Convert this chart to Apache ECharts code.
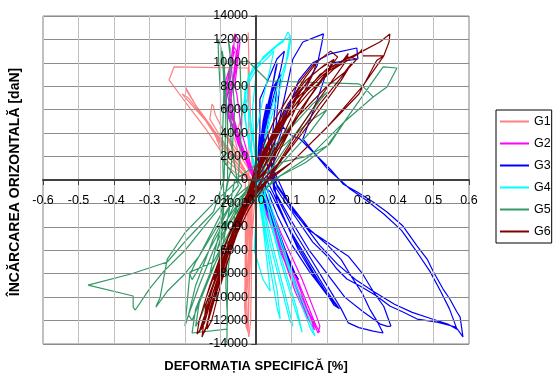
<!DOCTYPE html>
<html>
<head>
<meta charset="utf-8">
<script src="https://cdn.jsdelivr.net/npm/echarts@6/dist/echarts.min.js"></script>
<style>
html,body{margin:0;padding:0;background:#fff;}
#chart{width:554px;height:378px;}
</style>
</head>
<body>
<div id="chart"></div>
<script>
// Strain gauge readings: [strain %, horizontal load daN]
const seriesNames = ['G1', 'G2', 'G3', 'G4', 'G5', 'G6'];
const seriesColors = ['#FF8080', '#FF00FF', '#0000FF', '#00FFFF', '#339966', '#800000'];

const g1 = [
  [0,0],[-0.01,1000],[-0.03,2200],[-0.02,1200],[-0.005,0],[-0.01,-1500],[-0.015,-3000],[-0.01,-1500],[-0.005,0],
  [-0.03,1400],[-0.07,3300],[-0.1,4600],[-0.09,4200],[-0.05,1900],[-0.015,0],[-0.02,-3000],[-0.025,-6000],[-0.02,-4000],[-0.01,0],
  [-0.04,1200],[-0.09,3200],[-0.13,5200],[-0.124,6490],[-0.12,6300],[-0.115,5600],[-0.07,2900],[-0.03,600],[-0.02,0],
  [-0.025,-4000],[-0.03,-8000],[-0.028,-9500],[-0.022,-7000],[-0.015,-2500],[-0.01,0],
  [-0.05,1300],[-0.11,3900],[-0.17,6400],[-0.2,8000],[-0.195,7600],[-0.13,4500],[-0.07,1700],[-0.02,0],
  [-0.028,-5000],[-0.032,-10000],[-0.03,-11500],[-0.024,-9000],[-0.016,-4000],[-0.01,0],
  [-0.06,1600],[-0.14,5000],[-0.208,7340],[-0.19,7000],[-0.12,4200],[-0.079,1100],[-0.03,0],
  [-0.03,-6000],[-0.031,-12000],[-0.025,-12800],[-0.02,-9000],[-0.012,-3000],[-0.02,0],
  [-0.02,4000],[-0.022,9560],[-0.1,9600],[-0.231,9650],[-0.245,8540],[-0.2,6700],[-0.14,4300],[-0.08,1600],[-0.02,0],
  [-0.03,-6000],[-0.032,-11000],[-0.02,-13400],[-0.015,-12000],[-0.012,-6000],[-0.01,0],
  [-0.015,5000],[-0.02,10000],[-0.022,12600],[-0.02,10000],[-0.025,6900],[-0.06,3500],[-0.04,1200],[-0.015,0],
  [-0.025,-5000],[-0.028,-12500],[-0.022,-13000],[-0.018,-8000],[0,0]
];

const g2 = [
  [0,0],[-0.02,1500],[-0.04,3000],[-0.03,2000],[0,0],[0.02,-1500],[0.04,-3000],[0.03,-2200],[0.005,0],
  [-0.03,2000],[-0.06,4500],[-0.07,6000],[-0.065,5200],[-0.03,2000],[0,0],[0.03,-2500],[0.06,-5000],[0.08,-6500],[0.07,-5800],[0.03,-2400],[0,0],
  [-0.04,2500],[-0.08,5500],[-0.09,7500],[-0.085,8500],[-0.08,8000],[-0.06,5000],[-0.03,2000],[0,0],
  [0.04,-3000],[0.08,-6500],[0.11,-9000],[0.1,-8500],[0.06,-5000],[0.02,-1000],[0,0],
  [-0.045,3000],[-0.085,6000],[-0.08,8500],[-0.07,10000],[-0.06,11000],[-0.065,10500],[-0.075,8000],[-0.07,5000],[-0.03,2000],[0,0],
  [0.04,-3500],[0.09,-7500],[0.13,-10500],[0.15,-12000],[0.14,-11500],[0.1,-8000],[0.05,-3800],[0,0],
  [-0.05,3500],[-0.09,6500],[-0.085,8500],[-0.065,10500],[-0.06,12470],[-0.05,12000],[-0.055,10000],[-0.07,7000],[-0.06,4000],[-0.02,1000],
  [0.01,-1000],[0.06,-5500],[0.11,-9000],[0.15,-11500],[0.175,-13060],[0.18,-12470],[0.17,-11600],[0.13,-8500],[0.07,-4500],[0.02,-700],
  [-0.03,2000],[-0.07,5500],[-0.08,7340],[-0.055,9500],[-0.045,11800],[-0.05,10500],[-0.06,8000],[-0.054,7340],[-0.04,4000],[-0.01,800],
  [0.03,-2500],[0.08,-6000],[0.12,-9500],[0.16,-12000],[0.18,-13000],[0.17,-12500],[0.13,-9500],[0.09,-6500],[0.04,-2800],[0,0],
  [-0.035,2500],[-0.07,5000],[-0.09,7000],[-0.075,9000],[-0.065,11500],[-0.055,11000],[-0.065,8500],[-0.08,6000],[-0.05,3000],[-0.01,500],
  [0.03,-3000],[0.07,-6000],[0.11,-9500],[0.14,-11500],[0.165,-12800],[0.16,-12300],[0.12,-9000],[0.08,-5800],[0.04,-2500],[0,0]
];

const g3 = [
  [0,0],[0.005,2000],[0.01,4000],[0.008,3000],[0,0],[0.02,-1500],[0.04,-3000],[0.03,-2000],[0.005,0],
  [0.01,2500],[0.02,5000],[0.03,6500],[0.025,5500],[0.01,2500],[0,0],
  [0.03,-2500],[0.06,-4500],[0.08,-6000],[0.07,-5200],[0.03,-2000],[0.01,0],
  [0.015,3000],[0.03,6000],[0.05,8500],[0.06,10000],[0.055,9500],[0.035,6000],[0.015,2500],[0.01,0],
  [0.04,-3000],[0.08,-5800],[0.11,-8000],[0.12,-8500],[0.1,-7500],[0.06,-4000],[0.02,-500],
  [0.011,3000],[0.011,6900],[0.059,10330],[0.08,11000],[0.07,9500],[0.04,6000],[0.02,2500],[0.02,0],
  [0.06,-3000],[0.1,-5500],[0.15,-7800],[0.2,-9800],[0.232,-10930],[0.22,-10700],[0.16,-7800],[0.1,-4700],[0.05,-1200],[0.03,0],
  [0.05,3000],[0.08,7000],[0.104,10330],[0.132,11780],[0.19,12470],[0.186,11780],[0.172,9740],[0.138,8030],[0.101,6920],[0.076,5470],[0.073,4610],[0.1,3800],[0.124,3500],
  [0.21,900],[0.245,-340],[0.285,-1025],[0.33,-1880],[0.369,-2730],[0.414,-3930],[0.454,-5640],[0.482,-6750],[0.5,-7860],[0.527,-9310],[0.546,-10160],[0.566,-11270],[0.575,-11700],[0.583,-13400],
  [0.563,-12550],[0.51,-12130],[0.454,-11870],[0.414,-11270],[0.377,-10760],[0.34,-9900],[0.293,-9050],[0.256,-8450],[0.228,-7600],[0.2,-6490],[0.16,-5300],[0.115,-3330],[0.076,-1620],[0.04,85],
  [0.06,3000],[0.09,6000],[0.12,8500],[0.16,10000],[0.208,10760],[0.284,11270],[0.287,10330],[0.214,10000],[0.195,8880],[0.18,7520],[0.16,5800],[0.132,3500],[0.2,1000],[0.265,-770],
  [0.31,-1700],[0.36,-2900],[0.41,-4300],[0.45,-6000],[0.49,-7800],[0.52,-9500],[0.545,-11000],[0.566,-12730],[0.54,-12300],[0.49,-11800],[0.44,-11300],[0.39,-10600],[0.33,-9500],[0.28,-8500],[0.23,-7200],[0.18,-5600],[0.12,-3200],[0.06,-600],
  [0.04,2000],[0.03,5000],[0.05,8000],[0.07,9000],[0.06,6000],[0.05,2000],[0.05,0],
  [0.1,-2200],[0.15,-4200],[0.2,-5500],[0.24,-6800],[0.27,-8300],[0.3,-9700],[0.32,-11000],[0.34,-12000],[0.358,-13060],[0.33,-12900],[0.29,-12600],[0.26,-12200],[0.24,-11000],[0.2,-9000],[0.16,-7000],[0.11,-4500],[0.06,-1500],
  [0.03,1500],[0.02,4000],[0.04,7000],[0.06,8500],[0.05,5000],[0.04,1500],
  [0.1,-2500],[0.15,-4300],[0.2,-5300],[0.26,-6500],[0.3,-8000],[0.33,-9500],[0.36,-10800],[0.38,-12470],[0.37,-12500],[0.35,-12300],[0.3,-11200],[0.25,-10000],[0.2,-8000],[0.15,-6000],[0.1,-3500],[0.05,-800],
  [0.04,2000],[0.06,-2000],[0.12,-6000],[0.18,-9000],[0.22,-10500],[0.235,-11000],[0.2,-9500],[0.14,-6500],[0.09,-4000],[0.04,-1000],[0,0]
];

const g4 = [
  [0,0],[-0.01,2000],[-0.02,4000],[-0.015,3000],[0,0],[0.01,-2000],[0.02,-4000],[0.015,-3000],[0,0],
  [-0.015,2500],[-0.03,5000],[-0.03,6500],[-0.02,6000],[-0.005,3000],[0.005,0],
  [0.0,-3000],[-0.005,-6000],[0.02,-8500],[0.04,-9500],[0.035,-8000],[0.02,-4000],[0.005,0],
  [-0.02,3000],[-0.035,6000],[-0.03,8000],[-0.01,9500],[0.003,10070],[0.0,9000],[-0.01,6000],[-0.005,2500],[0.01,0],
  [0.02,-3000],[0.04,-6500],[0.06,-9500],[0.068,-11870],[0.06,-11000],[0.04,-7500],[0.02,-3500],[0.01,0],
  [-0.02,3000],[-0.035,6500],[-0.02,9000],[0.03,10330],[0.05,11000],[0.04,9500],[0.02,7000],[0.0,4000],[0.005,1000],
  [0.02,-2000],[0.05,-6000],[0.08,-9500],[0.104,-12470],[0.095,-12000],[0.07,-9000],[0.04,-5500],[0.015,-1500],
  [-0.01,2000],[-0.03,5000],[-0.03,8000],[0.0,9800],[0.059,11440],[0.076,11780],[0.09,12640],[0.096,12300],[0.082,9480],[0.06,7000],[0.03,4000],[0.015,1000],
  [0.03,-2000],[0.06,-5500],[0.09,-8500],[0.115,-11000],[0.13,-13000],[0.125,-12500],[0.1,-10000],[0.07,-7000],[0.04,-3500],[0.02,-500],
  [0,2000],[-0.02,5000],[-0.025,8000],[0.02,10500],[0.07,11800],[0.1,12300],[0.09,10500],[0.06,8000],[0.03,4500],[0.02,1500],
  [0.04,-2000],[0.07,-5000],[0.1,-8000],[0.14,-11000],[0.166,-13300],[0.155,-12800],[0.12,-10000],[0.08,-6500],[0.04,-2500],[0,0]
];

const g5 = [
  [0,0],[0.02,1500],[0.05,3000],[0.04,2000],[0,0],[-0.03,-1500],[-0.06,-3000],[-0.05,-2000],[-0.01,0],
  [0.03,2000],[0.08,4000],[0.12,5500],[0.1,4800],[0.04,1800],[0,0],[-0.04,-2000],[-0.08,-4000],[-0.11,-6000],[-0.1,-5000],[-0.04,-1500],[0,0],
  [0.04,2000],[0.1,4500],[0.16,6500],[0.2,7500],[0.18,6800],[0.1,3500],[0.04,800],[0,0],
  [-0.05,-2000],[-0.1,-4200],[-0.15,-7000],[-0.18,-8500],[-0.186,-8110],[-0.17,-7000],[-0.1,-3500],[-0.04,-500],
  [-0.1,2000],[-0.1,7340],[-0.105,10000],[-0.107,12040],[-0.1,11500],[-0.09,9000],[-0.085,5000],[-0.09,0],
  [-0.12,-2730],[-0.194,-5040],[-0.25,-7000],[-0.35,-8000],[-0.473,-8970],[-0.346,-9900],[-0.346,-10850],[-0.34,-11100],[-0.3,-9300],[-0.26,-7800],[-0.2,-6000],[-0.12,-3000],[-0.05,-500],
  [-0.07,3000],[-0.075,8000],[-0.073,11190],[-0.079,12040],[-0.07,10000],[-0.06,6000],[-0.07,1000],
  [-0.1,-3000],[-0.16,-6500],[-0.2,-8000],[-0.25,-9500],[-0.282,-10850],[-0.27,-10000],[-0.25,-6750],[-0.2,-4500],[-0.12,-2000],[-0.05,0],
  [-0.04,5000],[-0.045,10070],[-0.023,10160],[0.034,8450],[0.29,8200],[0.3,8030],[0.33,7090],[0.25,5000],[0.15,2000],[0.05,0],
  [-0.05,-3000],[-0.12,-7000],[-0.186,-7860],[-0.2,-12470],[-0.19,-11500],[-0.17,-9000],[-0.12,-5000],[-0.06,-1500],[0,0],
  [0.07,1500],[0.14,2000],[0.2,2900],[0.28,6300],[0.358,9650],[0.397,9560],[0.369,7940],[0.33,7090],[0.25,5000],[0.208,3070],[0.14,1500],[0.068,340],
  [-0.02,-2000],[-0.08,-5000],[-0.085,-9000],[-0.08,-12000],[-0.082,-12730],[-0.18,-13060],[-0.17,-11000],[-0.13,-8000],[-0.08,-5000],[-0.04,-2000],[0,0],
  [-0.06,-2000],[-0.12,-6000],[-0.16,-9000],[-0.19,-11500],[-0.18,-12000],[-0.14,-9000],[-0.1,-6000],[-0.09,-2000],
  [-0.095,3000],[-0.09,8000],[-0.095,11000],[-0.09,10000],[-0.08,5000],[-0.08,0],
  [-0.1,-4000],[-0.13,-8000],[-0.16,-10500],[-0.17,-12500],[-0.16,-12000],[-0.12,-9000],[-0.09,-5000],[-0.06,0],
  [0.08,3000],[0.15,5000],[0.2,6000],[0.15,4000],[0.06,1000],[-0.06,-3000],[-0.08,-8000],[-0.082,-14000]
];

const g6 = [
  [0,0],[0.01,1500],[0.03,3000],[0.02,2000],[0,0],[-0.02,-1500],[-0.04,-3000],[-0.03,-2000],[0,0],
  [0.02,2000],[0.05,4000],[0.08,5500],[0.06,4500],[0.02,1500],[0,0],[-0.03,-2000],[-0.06,-4000],[-0.08,-5500],[-0.07,-5000],[-0.03,-2000],[0,0],
  [0.03,2500],[0.07,5000],[0.12,7500],[0.15,8500],[0.13,7800],[0.07,4500],[0.02,1000],[0,0],
  [-0.04,-2500],[-0.08,-5000],[-0.1,-7000],[-0.12,-8500],[-0.11,-8000],[-0.07,-5000],[-0.03,-1500],[0,0],
  [0.04,3000],[0.1,6500],[0.16,9000],[0.2,10000],[0.21,9500],[0.15,7000],[0.08,3500],[0.02,500],
  [-0.02,-1000],[-0.06,-3500],[-0.1,-6500],[-0.13,-9000],[-0.15,-11000],[-0.14,-10500],[-0.1,-7500],[-0.06,-4000],[-0.02,-800],
  [0.03,2000],[0.1,6000],[0.18,9000],[0.26,10500],[0.284,10330],[0.26,9500],[0.18,6500],[0.1,3000],[0.04,250],
  [-0.02,-1500],[-0.07,-4200],[-0.11,-7500],[-0.14,-10000],[-0.16,-12000],[-0.166,-13150],[-0.15,-12500],[-0.12,-9500],[-0.08,-6000],[-0.03,-2000],
  [0.02,2000],[0.08,5000],[0.15,7500],[0.22,9500],[0.29,10800],[0.3,11190],[0.3,10600],[0.33,10600],[0.36,10600],[0.34,10200],[0.29,7340],[0.2,4500],[0.1,1500],[0.04,250],
  [-0.02,-2000],[-0.065,-4500],[-0.11,-8000],[-0.14,-10500],[-0.152,-13400],[-0.14,-12500],[-0.11,-9000],[-0.08,-6000],[-0.04,-2500],
  [0.02,2500],[0.1,6500],[0.2,9500],[0.3,11000],[0.35,11800],[0.377,12470],[0.375,11800],[0.36,10600],[0.3,8000],[0.2,4500],[0.1,1500],[0.03,-200],
  [-0.02,-2500],[-0.06,-5000],[-0.1,-8000],[-0.13,-11000],[-0.138,-12730],[-0.125,-12000],[-0.1,-9000],[-0.07,-6000],[-0.03,-2500],[0,0],
  [0.01,1000],[0.04,3500],[0.09,6500],[0.14,8500],[0.18,9500],[0.22,10300],[0.2,9200],[0.12,5800],[0.06,2500],[0.01,-300],
  [-0.03,-2000],[-0.075,-5200],[-0.115,-8500],[-0.14,-11000],[-0.155,-12800],[-0.145,-12200],[-0.115,-9000],[-0.085,-6500],[-0.045,-3000],[-0.01,-500],
  [0.05,2500],[0.12,5500],[0.2,8000],[0.25,9200],[0.27,10000],[0.24,8500],[0.16,5200],[0.08,2000],[0.02,0],
  [-0.035,-2500],[-0.08,-6000],[-0.12,-9500],[-0.145,-12000],[-0.16,-13000],[-0.15,-12000],[-0.125,-10000],[-0.095,-7500],[-0.055,-4000],[-0.02,-1200],
  [0.0,1500],[0.05,5000],[0.1,7500],[0.16,9800],[0.21,11000],[0.23,10500],[0.17,8000],[0.1,4500],[0.05,1500],[0.0,0],
  [0.02,1800],[0.07,4800],[0.13,7200],[0.19,9000],[0.24,10000],[0.26,10800],[0.25,10000],[0.18,7000],[0.11,3800],[0.05,800],
  [-0.01,-1500],[-0.05,-4000],[-0.09,-7000],[-0.12,-10000],[-0.14,-12500],[-0.15,-13200],[-0.14,-12600],[-0.11,-9500],[-0.075,-6500],[-0.035,-3000],[0,-300],
  [0.03,3000],[0.08,6000],[0.14,8800],[0.17,10000],[0.16,9000],[0.11,6000],[0.06,2800],[0.015,0],
  [-0.025,-2200],[-0.07,-5500],[-0.105,-8500],[-0.13,-11500],[-0.145,-13000],[-0.135,-12000],[-0.105,-8800],[-0.07,-5600],[-0.03,-2200],[0,0]
];

const seriesData = [g1, g2, g3, g4, g5, g6];

const chart = echarts.init(document.getElementById('chart'), null, {renderer: 'canvas'});

const font = 'Arial, "Liberation Sans", sans-serif';
// plot box: x 43..469, y 16..344; the axes cross at the origin (256, 180)
const plotLeft = 43, plotRight = 469, plotTop = 16, plotBottom = 344;
const zeroX = plotLeft + (plotRight - plotLeft) / 2;
const zeroY = plotTop + (plotBottom - plotTop) / 2;

chart.setOption({
  animation: false,
  backgroundColor: '#fff',
  grid: {left: plotLeft, right: 554 - plotRight, top: plotTop, bottom: 378 - plotBottom, show: true, borderColor: '#808080', borderWidth: 1, backgroundColor: 'transparent'},
  xAxis: {
    type: 'value', min: -0.6, max: 0.6, interval: 0.1, z: 10,
    offset: -(plotBottom - zeroY),
    axisLine: {onZero: false, lineStyle: {color: '#404040', width: 2}},
    axisTick: {show: true, length: 5, lineStyle: {color: '#404040', width: 1}},
    axisLabel: {formatter: v => v.toFixed(1), fontSize: 12.5, color: '#000', margin: 14, fontFamily: font},
    splitLine: {show: true, lineStyle: {color: '#c0c0c0', width: 1}}
  },
  yAxis: {
    type: 'value', min: -14000, max: 14000, interval: 2000, z: 10,
    offset: -(zeroX - plotLeft),
    axisLine: {onZero: false, lineStyle: {color: '#404040', width: 2}},
    axisTick: {show: true, length: 5, lineStyle: {color: '#404040', width: 1}},
    axisLabel: {formatter: v => String(v), fontSize: 12.5, color: '#000', margin: 8, fontFamily: font},
    splitLine: {show: true, lineStyle: {color: '#8c8c8c', width: 1}}
  },
  legend: {
    orient: 'vertical', left: 496, top: 110,
    data: seriesNames, icon: 'rect', itemWidth: 29, itemHeight: 2, itemGap: 9,
    borderColor: '#000', borderWidth: 1, padding: [5, 1, 5, 4],
    textStyle: {fontSize: 12.5, color: '#000', fontFamily: font}
  },
  graphic: [
    {type: 'text', x: zeroX, y: 366, style: {text: 'DEFORMAȚIA SPECIFICĂ [%]', font: 'bold 13px ' + font, fill: '#000', align: 'center', verticalAlign: 'middle'}},
    {type: 'text', x: 15, y: 182, rotation: Math.PI / 2, style: {text: 'ÎNCĂRCAREA ORIZONTALĂ [daN]', font: 'bold 14px ' + font, fill: '#000', align: 'center', verticalAlign: 'middle'}}
  ],
  series: seriesData.map((d, i) => ({
    name: seriesNames[i], type: 'line', data: d, showSymbol: false, symbol: 'none',
    color: seriesColors[i], lineStyle: {color: seriesColors[i], width: 1.2}, clip: true
  }))
});
</script>
</body>
</html>
